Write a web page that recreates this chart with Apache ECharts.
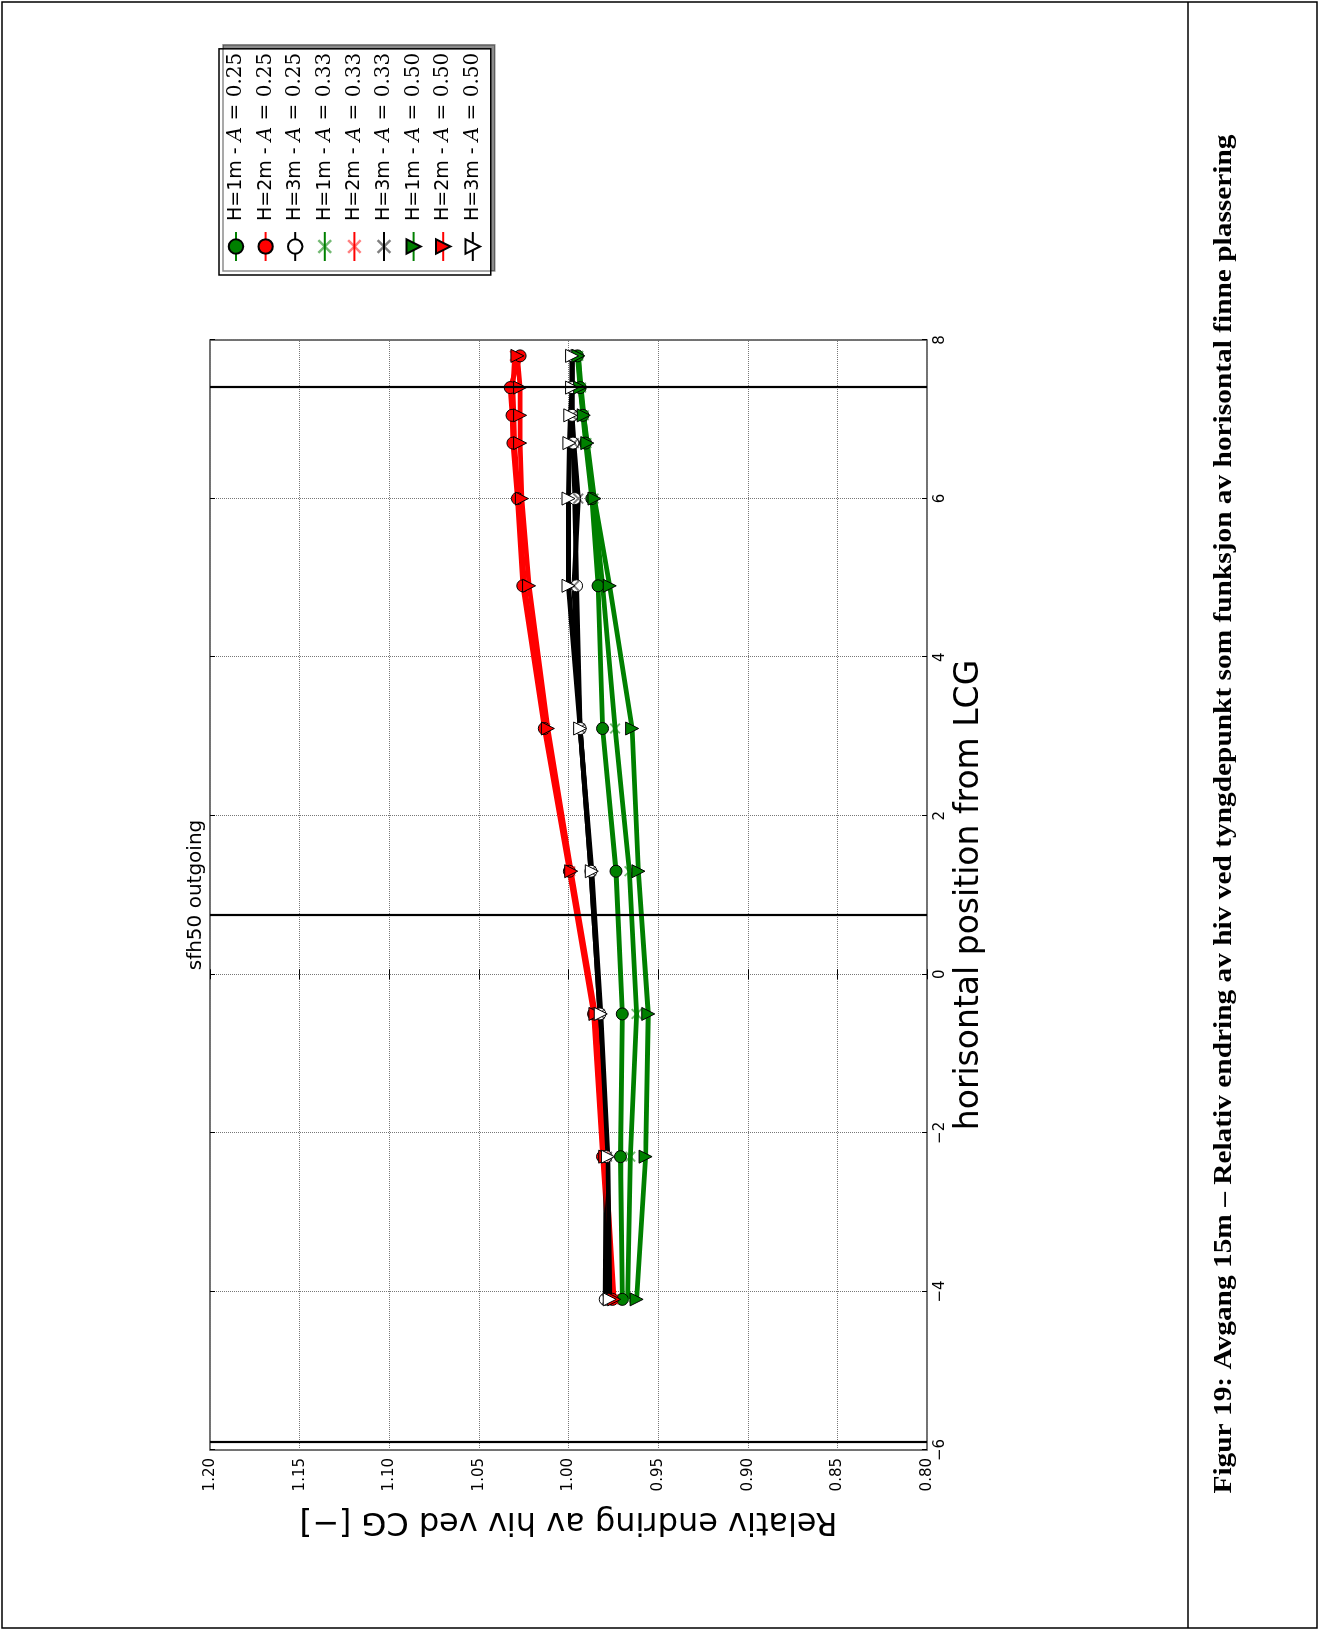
<!DOCTYPE html>
<html>
<head>
<meta charset="utf-8">
<script src="https://cdn.jsdelivr.net/npm/echarts@6/dist/echarts.min.js"></script>
<style>
html, body { margin: 0; padding: 0; background: #fff; width: 1319px; height: 1630px; overflow: hidden; }
/* the whole figure sits rotated on the page, so the chart is drawn upright and turned */
#page { position: absolute; left: 0; top: 0; width: 1630px; height: 1319px;
        transform-origin: 0 0; transform: translate(0, 1630px) rotate(-90deg); }
</style>
</head>
<body>
<div id="page"></div>
<script>
// fin position from LCG
const positions = [-4.1, -2.3, -0.5, 1.3, 3.1, 4.9, 6.0, 6.7, 7.05, 7.4, 7.8]

const h1mA025 = [0.970, 0.971, 0.970, 0.9735, 0.981, 0.9835, 0.987, 0.9905, 0.992, 0.9935, 0.995]
const h2mA025 = [0.9755, 0.981, 0.986, 0.9995, 1.0135, 1.0255, 1.0285, 1.031, 1.0315, 1.0325, 1.027]
const h3mA025 = [0.9795, 0.979, 0.9825, 0.9875, 0.9935, 0.9955, 0.9965, 0.9975, 0.998, 0.998, 0.998]
const h1mA033 = [0.967, 0.9655, 0.962, 0.966, 0.974, 0.981, 0.986, 0.990, 0.9915, 0.993, 0.9945]
const h2mA033 = [0.975, 0.9805, 0.9855, 0.999, 1.013, 1.0245, 1.028, 1.030, 1.0305, 1.031, 1.030]
const h3mA033 = [0.9785, 0.9785, 0.9825, 0.9875, 0.9935, 0.997, 0.9945, 0.997, 0.998, 0.998, 0.998]
const h1mA050 = [0.962, 0.957, 0.9555, 0.961, 0.9645, 0.977, 0.9855, 0.9895, 0.9915, 0.9935, 0.9945]
const h2mA050 = [0.9745, 0.9795, 0.985, 0.9985, 1.0115, 1.022, 1.026, 1.027, 1.027, 1.027, 1.0285]
const h3mA050 = [0.977, 0.978, 0.982, 0.987, 0.9935, 1.0, 1.0, 0.9995, 0.999, 0.998, 0.998]

// vertical black reference lines
const refLines = [-5.9, 0.75, 7.4]

const caption = 'Figur 19: Avgang 15m – Relativ endring av hiv ved tyngdepunkt som funksjon av horisontal finne plassering'

const xMark = 'path://M0,1.2L1.2,0L5,3.8L8.8,0L10,1.2L6.2,5L10,8.8L8.8,10L5,6.2L1.2,10L0,8.8L3.8,5Z'

function makeSeries(name, values, color, marker) {
    let hollow = color === '#000000'
    let s = {
        name: name,
        type: 'line',
        data: positions.map((p, i) => [p, values[i]]),
        symbolSize: 12,
        lineStyle: { color: color, width: 4.8 },
        itemStyle: { color: hollow ? '#ffffff' : color, borderColor: '#000', borderWidth: 1 },
        emphasis: { disabled: true },
        z: 3
    }
    if (marker === 'circle') {
        s.symbol = 'circle'
    } else if (marker === 'x') {
        s.symbol = xMark
        s.symbolSize = 11
        s.itemStyle = { color: color === '#008000' ? 'rgba(0,128,0,0.55)' : (color === '#ff0000' ? 'rgba(255,0,0,0.5)' : 'rgba(0,0,0,0.5)'), borderWidth: 0 }
    } else {
        s.symbol = 'triangle'
        s.symbolRotate = 180
        s.symbolSize = 13
    }
    return s
}

let series = [
    makeSeries('H=1m - A=0.25', h1mA025, '#008000', 'circle'),
    makeSeries('H=2m - A=0.25', h2mA025, '#ff0000', 'circle'),
    makeSeries('H=3m - A=0.25', h3mA025, '#000000', 'circle'),
    makeSeries('H=1m - A=0.33', h1mA033, '#008000', 'x'),
    makeSeries('H=2m - A=0.33', h2mA033, '#ff0000', 'x'),
    makeSeries('H=3m - A=0.33', h3mA033, '#000000', 'x'),
    makeSeries('H=1m - A=0.50', h1mA050, '#008000', 'tri'),
    makeSeries('H=2m - A=0.50', h2mA050, '#ff0000', 'tri'),
    makeSeries('H=3m - A=0.50', h3mA050, '#000000', 'tri')
]
series[0].markLine = {
    symbol: 'none',
    silent: true,
    label: { show: false },
    lineStyle: { color: '#000', width: 2.2, type: 'solid' },
    data: refLines.map(x => ({ xAxis: x }))
}

const sans = 'DejaVu Sans'
let chart = echarts.init(document.getElementById('page'))

let option = {
    animation: false,
    backgroundColor: '#fff',
    grid: {
        left: 180,
        top: 210,
        width: 1110,
        height: 717,
        show: true,
        borderColor: '#444',
        borderWidth: 1.5
    },
    xAxis: [{
        type: 'value',
        min: -6,
        max: 8,
        interval: 2,
        name: 'horisontal position from LCG',
        nameLocation: 'middle',
        nameGap: 24,
        nameTextStyle: { fontFamily: sans, fontSize: 33, color: '#000' },
        axisLine: { show: false },
        axisTick: { inside: true, length: 5, lineStyle: { color: '#000' } },
        axisLabel: {
            margin: 6, fontFamily: sans, fontSize: 15, color: '#000',
            formatter: v => String(v).replace('-', '\u2212')
        },
        splitLine: { show: true, lineStyle: { color: '#777', type: 'dotted', width: 1 } }
    }, {
        type: 'value', position: 'top', min: -6, max: 8, interval: 2,
        axisLine: { show: false },
        axisTick: { inside: true, length: 5, lineStyle: { color: '#000' } },
        axisLabel: { show: false },
        splitLine: { show: false }
    }],
    yAxis: [{
        type: 'value',
        min: 0.8,
        max: 1.2,
        interval: 0.05,
        name: 'Relativ endring av hiv ved CG [\u2212]',
        nameLocation: 'middle',
        nameGap: 55,
        nameTextStyle: { fontFamily: sans, fontSize: 32, color: '#000' },
        axisLine: { show: false },
        axisTick: { inside: true, length: 5, lineStyle: { color: '#000' } },
        axisLabel: {
            margin: 8, fontFamily: sans, fontSize: 15, color: '#000',
            formatter: v => v.toFixed(2)
        },
        splitLine: { show: true, lineStyle: { color: '#777', type: 'dotted', width: 1 } }
    }, {
        type: 'value', position: 'right', min: 0.8, max: 1.2, interval: 0.05,
        axisLine: { show: false },
        axisTick: { inside: true, length: 5, lineStyle: { color: '#000' } },
        axisLabel: { show: false },
        splitLine: { show: false }
    }],
    legend: {
        orient: 'vertical',
        left: 1355,
        top: 219,
        padding: [7, 4, 8, 13],
        itemWidth: 29,
        itemHeight: 18,
        itemGap: 9.6,
        backgroundColor: '#fff',
        borderColor: '#000',
        borderWidth: 1.5,
        shadowColor: 'rgba(0,0,0,0.45)',
        shadowOffsetX: 4,
        shadowOffsetY: 4,
        shadowBlur: 0,
        selectedMode: false,
        formatter: name => {
            let parts = name.split(' - ')
            return '{n|' + parts[0] + ' - }{i|A}{m| = ' + parts[1].split('=')[1] + '}'
        },
        textStyle: {
            padding: [0, 0, 0, 6],
            rich: {
                n: { fontFamily: sans, fontSize: 19, color: '#000' },
                i: { fontFamily: 'DejaVu Serif', fontStyle: 'italic', fontSize: 20, color: '#000' },
                m: { fontFamily: 'DejaVu Serif', fontSize: 20, color: '#000' }
            }
        }
    },
    graphic: [
        { type: 'rect', shape: { x: 2, y: 2, width: 1626, height: 1315 }, style: { fill: 'none', stroke: '#000', lineWidth: 1.5 }, silent: true },
        { type: 'line', shape: { x1: 2, y1: 1188, x2: 1628, y2: 1188 }, style: { stroke: '#000', lineWidth: 1.5 }, silent: true },
        { type: 'text', x: 735, y: 206, silent: true,
          style: { text: 'sfh50 outgoing', font: '20px "DejaVu Sans"', fill: '#000', textAlign: 'center', textVerticalAlign: 'bottom' } },
        { type: 'text', x: 816, y: 1225, scaleX: 1.175, silent: true,
          style: { text: caption, font: 'bold 25px "Liberation Serif"', fill: '#000', textAlign: 'center', textVerticalAlign: 'middle' } }
    ],
    series: series
}
chart.setOption(option)
</script>
</body>
</html>
